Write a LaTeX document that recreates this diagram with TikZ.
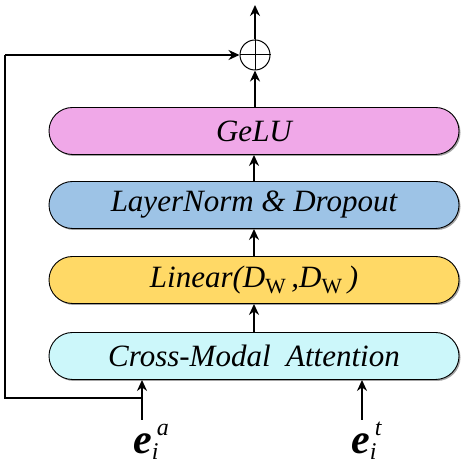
\documentclass[tikz,border=0pt]{standalone}
\usepackage{fontspec}
\setmainfont{Liberation Serif}
\usetikzlibrary{arrows.meta,shadows,shapes.misc}
\newcommand{\escript}[2]{{\fontsize{42}{44}\selectfont\itshape\bfseries e}{\fontsize{24}{26}\selectfont\itshape\makebox[0pt][l]{\raisebox{18pt}{\hspace{5pt}#2}}\raisebox{-6pt}{#1}}}
\begin{document}
\begin{tikzpicture}[x=1pt,y=1pt,
  blk/.style={draw=black, line width=0.9pt, rounded rectangle, minimum width=410pt, minimum height=47pt,
    inner sep=0pt, font=\fontsize{31}{34}\selectfont\itshape,
    drop shadow={shadow xshift=1.5pt, shadow yshift=-1.5pt, fill=black!45, opacity=0.8}},
  flow/.style={line width=2.2pt, -{Stealth[length=11pt,width=10pt]}},
  loop/.style={line width=1.6pt},
  lab/.style={inner sep=0pt, anchor=base}
]
\useasboundingbox (0,0) rectangle (468,465);
\definecolor{cgelu}{HTML}{F0A8E8}
\definecolor{cln}{HTML}{9DC3E6}
\definecolor{clin}{HTML}{FFD966}
\definecolor{ccm}{HTML}{CCF7FA}

\node[blk, fill=cgelu] (gelu) at (254,334) {GeLU};
\node[blk, fill=cln] (ln) at (254,260) {LayerNorm \& Dropout};
\node[blk, fill=clin] (lin) at (254,185) {Linear(D\textsubscript{\upshape W}\,,D\textsubscript{\upshape W}\,)};
\node[blk, fill=ccm] (cm) at (254,109) {Cross-Modal\enspace Attention};

\node[circle, draw, line width=1pt, minimum size=30pt, inner sep=0pt] (plus) at (255,410) {};
\draw[line width=1pt] (plus.north) -- (plus.south) (plus.west) -- (plus.east);

\coordinate (top) at (255,460);
\coordinate (ina) at (142,45);
\coordinate (int) at (362,45);
\coordinate (cornb) at (5,67);
\coordinate (cornt) at (5,410);

\node[lab] (ea) at (146,11) {\escript{i}{a}};
\node[lab] (et) at (364,11) {\escript{i}{t}};

\draw[flow] (ina) -- (ina |- cm.south);
\draw[flow] (int) -- (int |- cm.south);
\draw[flow] (cm.north -| lin.south) -- (lin.south);
\draw[flow] (lin.north) -- (ln.south);
\draw[flow] (ln.north) -- (gelu.south);
\draw[flow] (gelu.north -| plus.south) -- (plus.south);
\draw[flow] (plus.north) -- (top);
\draw[loop] (142,67) -- (cornb) -- (cornt);
\draw[loop, -{Stealth[length=11pt,width=10pt]}] (cornt) -- (plus.west);
\end{tikzpicture}
\end{document}
